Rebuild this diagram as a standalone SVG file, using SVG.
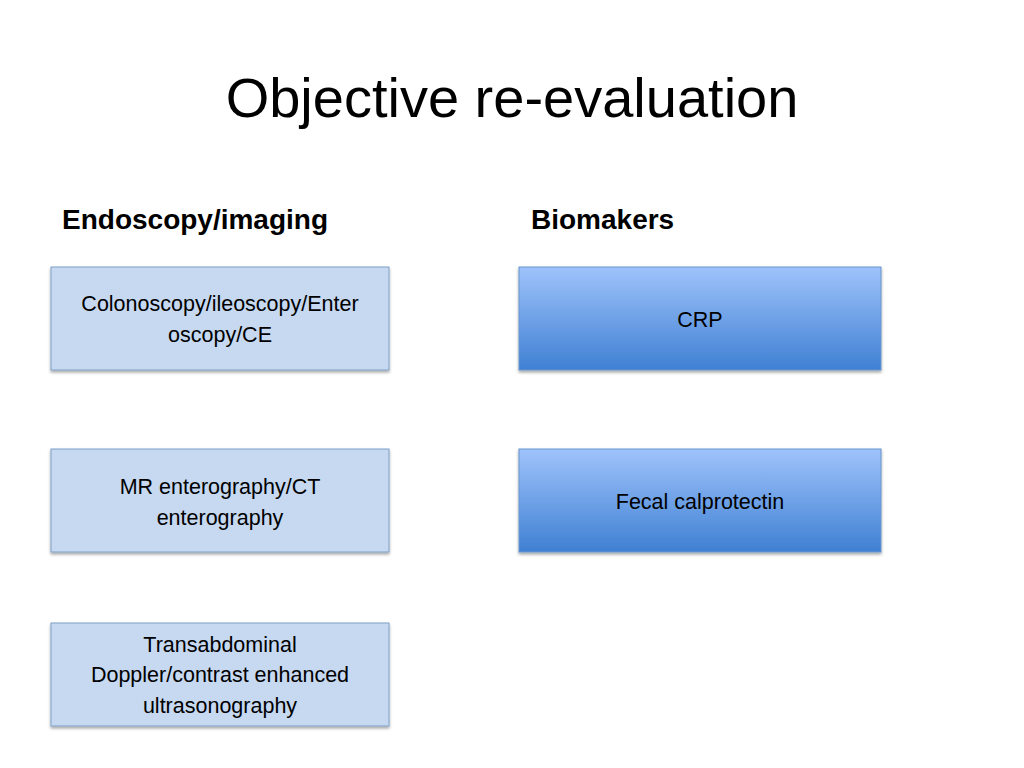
<svg xmlns="http://www.w3.org/2000/svg" width="1024" height="768" viewBox="0 0 1024 768">
<defs>
<linearGradient id="g" x1="0" y1="0" x2="0" y2="1"><stop offset="0" stop-color="#9fc3fb"/><stop offset="1" stop-color="#3f80d3"/></linearGradient>
<filter id="sh" x="-5%" y="-5%" width="110%" height="120%"><feDropShadow dx="0" dy="2" stdDeviation="1.5" flood-opacity="0.35"/></filter>
</defs>
<style>
text{font-family:"Liberation Sans",Arial,sans-serif;fill:#000}
.l{fill:#c6d9f1;stroke:#7f9fc6;stroke-width:1}
.b{fill:url(#g);stroke:#6a95cc;stroke-width:1}
.t{font-size:21.5px;text-anchor:middle}
.h{font-size:28px;font-weight:bold}
</style>
<rect width="1024" height="768" fill="#fff"/>
<text x="512" y="117" font-size="56" text-anchor="middle">Objective re-evaluation</text>
<text class="h" x="62" y="229">Endoscopy/imaging</text>
<text class="h" x="531" y="229">Biomakers</text>
<g id="n1"><rect class="l" x="51" y="267" width="338" height="103" filter="url(#sh)"/><text class="t" x="220" y="311">Colonoscopy/ileoscopy/Enter</text><text class="t" x="220" y="342">oscopy/CE</text></g>
<g id="n2"><rect class="l" x="51" y="449" width="338" height="103" filter="url(#sh)"/><text class="t" x="220" y="494">MR enterography/CT</text><text class="t" x="220" y="525">enterography</text></g>
<g id="n3"><rect class="l" x="51" y="623" width="338" height="103" filter="url(#sh)"/><text class="t" x="220" y="652">Transabdominal</text><text class="t" x="220" y="682">Doppler/contrast enhanced</text><text class="t" x="220" y="713">ultrasonography</text></g>
<g id="n4"><rect class="b" x="519" y="267" width="362" height="103" filter="url(#sh)"/><text class="t" x="700" y="327">CRP</text></g>
<g id="n5"><rect class="b" x="519" y="449" width="362" height="103" filter="url(#sh)"/><text class="t" x="700" y="509">Fecal calprotectin</text></g>
<g id="connectors"/>
</svg>
